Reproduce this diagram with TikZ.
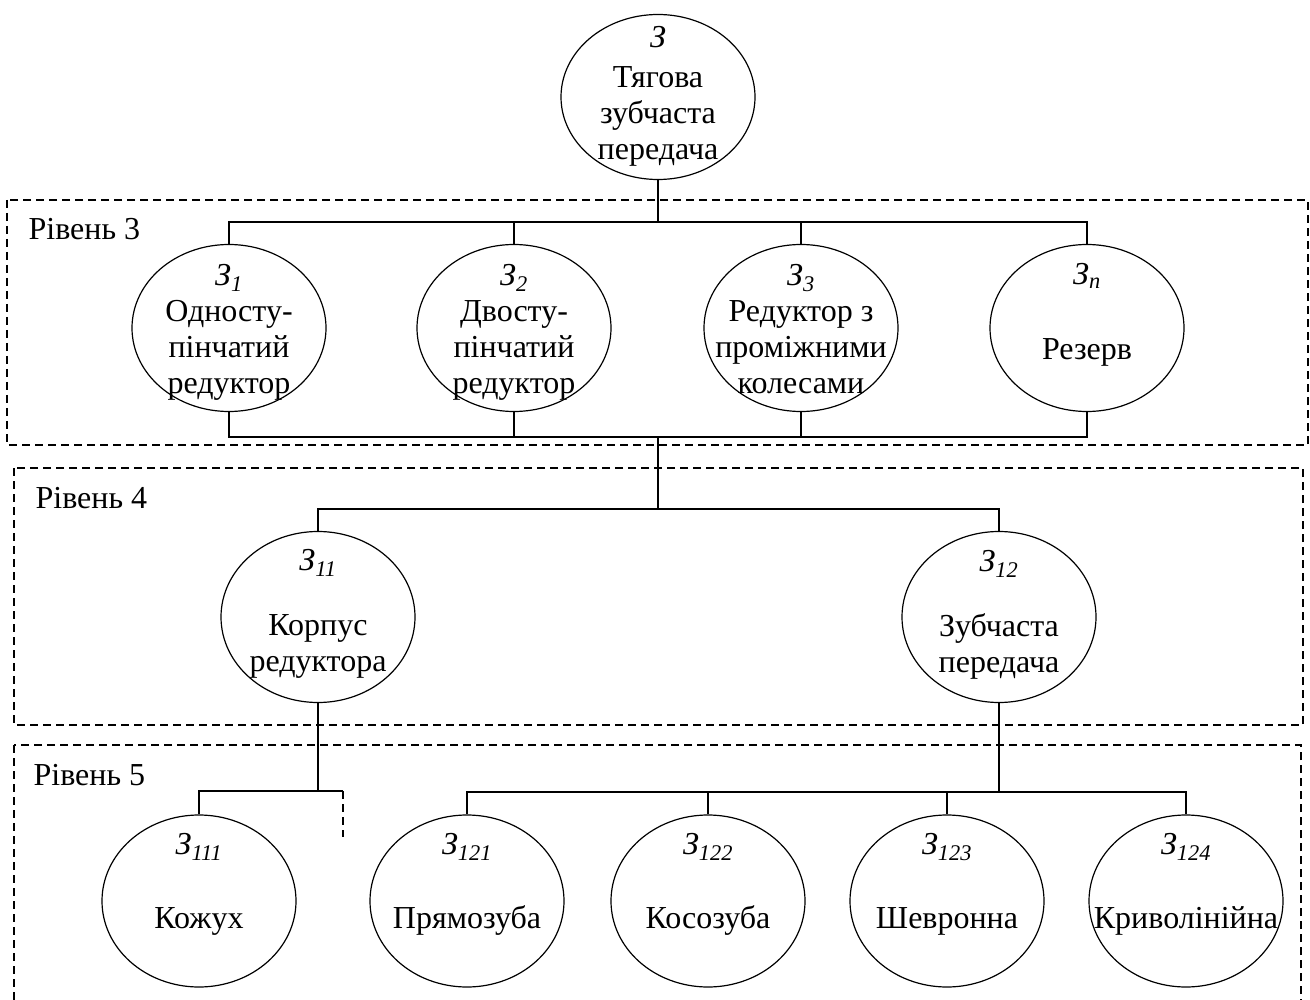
\documentclass[tikz,border=0pt]{standalone}
\usepackage{fontspec}
\setmainfont{Liberation Serif}
\usetikzlibrary{shapes.geometric}

\begin{document}
\begin{tikzpicture}[x=1pt,y=-1pt,line width=1.2pt,
    every node/.style={font=\fontsize{32}{36}\selectfont},
    zub/.style={draw,ellipse,minimum width=194pt,minimum height=170pt,inner sep=0pt},
    txt/.style={align=center,inner sep=0pt},
    level/.style={dash pattern=on 8pt off 5pt,line width=1.1pt}]
    \useasboundingbox (0,0) rectangle (1310,1000);

    % level frames
    \draw[level] (7,200) rectangle (1308,445);
    \draw[level] (14,468) rectangle (1303,725);
    \draw[level] (14,745) rectangle (1301,1006);

    \node[anchor=base west,inner sep=0pt] (lvl3) at (28,240) {Рівень 3};
    \node[anchor=base west,inner sep=0pt] (lvl4) at (35,508) {Рівень 4};
    \node[anchor=base west,inner sep=0pt] (lvl5) at (33,785) {Рівень 5};

    \node[zub,minimum height=165pt] (top) at (658,97) {};
    \node[txt] (topt) at (658,96) {\strut\textit{З}\\[4pt]Тягова\\зубчаста\\передача\strut};

    \node[zub,minimum height=167pt] (z1) at (229,328) {};
    \node[zub,minimum height=167pt] (z2) at (514,328) {};
    \node[zub,minimum height=167pt] (z3) at (801,328) {};
    \node[zub,minimum height=167pt] (zn) at (1087,328) {};

    \node[txt] (z1t) at (229,332) {\strut\textit{З\textsubscript{1}}\\Односту-\\пінчатий\\редуктор\strut};
    \node[txt] (z2t) at (514,332) {\strut\textit{З\textsubscript{2}}\\Двосту-\\пінчатий\\редуктор\strut};
    \node[txt] (z3t) at (801,332) {\strut\textit{З\textsubscript{3}}\\Редуктор з\\проміжними\\колесами\strut};
    \node[txt] (znt) at (1087,315) {\strut\textit{З\textsubscript{n}}\\[39pt]Резерв\strut};

    \node[zub,minimum height=171pt] (z11) at (318,617) {};
    \node[zub,minimum height=171pt] (z12) at (999,617) {};

    \node[txt] (z11t) at (318,614) {\strut\textit{З\textsubscript{11}}\\[29pt]Корпус\\редуктора\strut};
    \node[txt] (z12t) at (999,615) {\strut\textit{З\textsubscript{12}}\\[29pt]Зубчаста\\передача\strut};

    \node[zub,minimum height=172pt] (z111) at (199,901) {};
    \node[zub,minimum height=172pt] (z121) at (467,901) {};
    \node[zub,minimum height=172pt] (z122) at (708,901) {};
    \node[zub,minimum height=172pt] (z123) at (947,901) {};
    \node[zub,minimum height=172pt] (z124) at (1186,901) {};

    \node[txt] (z111t) at (199,884) {\strut\textit{З\textsubscript{111}}\\[38pt]Кожух\strut};
    \node[txt] (z121t) at (467,884) {\strut\textit{З\textsubscript{121}}\\[38pt]Прямозуба\strut};
    \node[txt] (z122t) at (708,884) {\strut\textit{З\textsubscript{122}}\\[38pt]Косозуба\strut};
    \node[txt] (z123t) at (947,884) {\strut\textit{З\textsubscript{123}}\\[38pt]Шевронна\strut};
    \node[txt] (z124t) at (1186,884) {\strut\textit{З\textsubscript{124}}\\[38pt]Криволінійна\strut};

    % junctions
    \coordinate (j3) at (658,222);
    \coordinate (j3b) at (658,437);
    \coordinate (j4) at (658,509);
    \coordinate (j5a) at (318,791);
    \coordinate (j5b) at (999,792);
    \coordinate (stub) at (343,791);
    \coordinate (stubend) at (343,837);

    \draw (top) -- (j3);
    \foreach \to in {z1,z2,z3,zn}
    \draw (j3) -| (\to.north);
    \foreach \from in {z1,z2,z3,zn}
    \draw (\from.south) |- (j3b);
    \draw (j3b) -- (j4);
    \foreach \to in {z11,z12}
    \draw (j4) -| (\to.north);

    \draw (z11.south) -- (j5a);
    \draw (j5a) -| (z111.north);
    \draw (j5a) -- (stub);
    \draw[level,line width=1.2pt] (stub) -- (stubend);

    \draw (z12.south) -- (j5b);
    \foreach \to in {z121,z122,z123,z124}
    \draw (j5b) -| (\to.north);
\end{tikzpicture}
\end{document}
